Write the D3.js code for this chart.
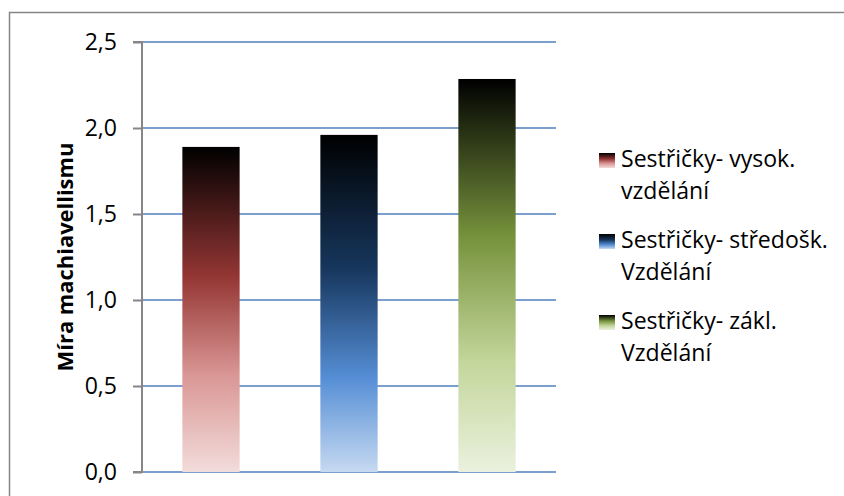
<!DOCTYPE html>
<html><head><meta charset="utf-8">
<script src="https://cdn.jsdelivr.net/npm/d3@7"></script>
<style>html,body{margin:0;padding:0;background:#fff;}svg{display:block;}</style>
</head><body>
<script>
const categories = ["Sestřičky- vysok. vzdělání", "Sestřičky- středošk. Vzdělání", "Sestřičky- zákl. Vzdělání"];
const legendLines = [["Sestřičky- vysok.", "vzdělání"], ["Sestřičky- středošk.", "Vzdělání"], ["Sestřičky- zákl.", "Vzdělání"]];
const values = [1.89, 1.96, 2.285];
const yTicks = [0, 0.5, 1.0, 1.5, 2.0, 2.5];
const yTitle = "Míra machiavellismu";
const gradStops = [
  [["0", "#000000"], ["0.4", "#943634"], ["0.7", "#d99694"], ["1", "#f2dcdb"]],
  [["0", "#000000"], ["0.4", "#17375e"], ["0.72", "#558ed5"], ["1", "#c6d9f1"]],
  [["0", "#000000"], ["0.4", "#76923c"], ["0.72", "#c3d69b"], ["1", "#ebf1de"]]
];

const W = 844, H = 496;
const font = "'Open Sans', Lato, sans-serif";
const svg = d3.select("body").append("svg").attr("width", W).attr("height", H);

// fit a font size so a sample string spans a target width
function fitSize(str, target, weight) {
  const t = svg.append("text").style("font-family", font).style("font-size", "100px")
    .style("font-weight", weight || "normal").text(str);
  const w = t.node().getComputedTextLength();
  t.remove();
  return 100 * target / w;
}
const legendSize = fitSize("Sestřičky- středošk.", 207);
const titleSize = fitSize(yTitle, 229, "bold");

// chart border
svg.append("rect").attr("x", 9.5).attr("y", 12.5).attr("width", W + 20).attr("height", H + 20)
  .attr("fill", "none").attr("stroke", "#868686").attr("stroke-width", 1.5);

const defs = svg.append("defs");
gradStops.forEach((stops, i) => {
  const g = defs.append("linearGradient").attr("id", "g" + i)
    .attr("x1", 0).attr("y1", 0).attr("x2", 0).attr("y2", 1);
  stops.forEach(s => g.append("stop").attr("offset", s[0]).attr("stop-color", s[1]));
});

const plot = {left: 142, right: 556, top: 42, bottom: 472};
const y = d3.scaleLinear().domain([0, 2.5]).range([plot.bottom, plot.top]);
const x = d3.scaleBand().domain(categories).range([plot.left, plot.right]).paddingInner(0.585).paddingOuter(0.2925);

// gridlines
svg.append("g").selectAll("line").data(yTicks).join("line")
  .attr("x1", plot.left).attr("x2", plot.right)
  .attr("y1", d => y(d)).attr("y2", d => y(d))
  .attr("stroke", "#4f81bd").attr("stroke-width", 1.6);

// bars
svg.append("g").selectAll("rect").data(values).join("rect")
  .attr("x", (d, i) => x(categories[i]))
  .attr("width", x.bandwidth())
  .attr("y", d => y(d))
  .attr("height", d => y(0) - y(d))
  .attr("fill", (d, i) => `url(#g${i})`);

// y axis
const yAxis = d3.axisLeft(y).tickValues(yTicks).tickSize(9).tickPadding(16)
  .tickFormat(d => d3.format(".1f")(d).replace(".", ","));
const ga = svg.append("g").attr("transform", `translate(${plot.left},0)`).call(yAxis);
ga.select(".domain").attr("stroke", "#868686").attr("stroke-width", 2).attr("d", `M-9,${plot.top}H0V${plot.bottom}H-9`);
ga.selectAll(".tick line").attr("stroke", "#868686").attr("stroke-width", 2);
ga.selectAll(".tick text").attr("fill", "#000").style("font-family", font).style("font-size", legendSize + "px");

// y title
svg.append("text").attr("transform", `translate(73,257) rotate(-90)`)
  .attr("text-anchor", "middle").style("font-family", font).style("font-size", titleSize + "px")
  .style("font-weight", "bold").text(yTitle);

// legend
const legendY = [160, 241, 322];
const lg = svg.append("g");
legendLines.forEach((lines, i) => {
  lg.append("rect").attr("x", 599).attr("y", legendY[i] - 7).attr("width", 16).attr("height", 15)
    .attr("fill", `url(#g${i})`);
  lines.forEach((t, j) => {
    lg.append("text").attr("x", 621).attr("y", legendY[i] + 7 + j * 32)
      .style("font-family", font).style("font-size", legendSize + "px").attr("fill", "#000").text(t);
  });
});
</script>
</body></html>
